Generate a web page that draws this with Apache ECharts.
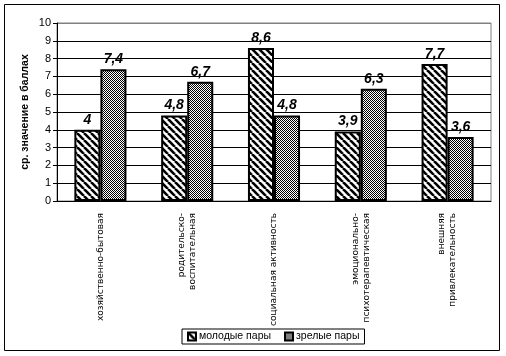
<!DOCTYPE html>
<html><head><meta charset="utf-8">
<script src="https://cdn.jsdelivr.net/npm/echarts@6/dist/echarts.min.js"></script>
<style>html,body{margin:0;padding:0;background:#fff}#c{width:506px;height:356px}</style>
</head><body><div id="c"></div>
<script>
const categories = ['хозяйственно-бытовая', 'родительско-\nвоспитательная', 'социальная активность', 'эмоционально-\nпсихотерапевтическая', 'внешняя\nпривлекательность'];
const youngCouples = [4, 4.8, 8.6, 3.9, 7.7];
const matureCouples = [7.4, 6.7, 4.8, 6.3, 3.6];
const seriesNames = ['молодые пары', 'зрелые пары'];
const yTicks = [0, 10, 1];
const yTitle = 'ср. значение в баллах';

function hatch() {
  const s = 7, c = document.createElement('canvas');
  c.width = s; c.height = s;
  const g = c.getContext('2d');
  g.fillStyle = '#fff'; g.fillRect(0, 0, s, s);
  g.strokeStyle = '#000'; g.lineWidth = 2.6;
  for (const x0 of [-s, 0, s]) { g.beginPath(); g.moveTo(x0, 0); g.lineTo(x0 + s, s); g.stroke(); }
  return c;
}
function checker() {
  const c = document.createElement('canvas');
  c.width = 2; c.height = 2;
  const g = c.getContext('2d');
  g.fillStyle = '#fff'; g.fillRect(0, 0, 2, 2);
  g.fillStyle = '#000'; g.fillRect(0, 0, 1, 1); g.fillRect(1, 1, 1, 1);
  return c;
}
const fmt = p => String(p.value).replace('.', ',');
const labelStyle = { show: true, position: 'top', distance: 3, formatter: fmt, fontFamily: 'Arial, Liberation Sans', fontSize: 14, fontWeight: 'bold', fontStyle: 'italic', color: '#000' };

const chart = echarts.init(document.getElementById('c'), null, { renderer: 'canvas' });
const gridColors = Array(10).fill('#000').concat(['#808080']);
chart.setOption({
  animation: false,
  textStyle: { fontFamily: 'Arial, Liberation Sans' },
  graphic: [{ type: 'rect', shape: { x: 4.5, y: 4.5, width: 495, height: 346 }, style: { fill: 'none', stroke: '#000', lineWidth: 1 }, z: -1 }],
  grid: { left: 57, top: 23, right: 15, bottom: 155, show: true, borderColor: '#808080', borderWidth: 1 },
  legend: {
    left: 182, top: 329, itemWidth: 8, itemHeight: 8, itemGap: 13, padding: [2, 5],
    borderColor: '#000', borderWidth: 1, icon: 'rect',
    textStyle: { fontSize: 10.5, color: '#000', fontFamily: 'Arial, Liberation Sans', padding: [0, 0, 0, -2] },
    data: seriesNames
  },
  xAxis: {
    type: 'category', data: categories,
    axisLine: { lineStyle: { color: '#000', width: 1 } },
    axisTick: { length: 5, lineStyle: { color: '#000' } },
    axisLabel: { rotate: 90, interval: 0, fontSize: 9, fontFamily: 'DejaVu Sans', color: '#000', margin: 12, lineHeight: 11 }
  },
  yAxis: {
    type: 'value', min: yTicks[0], max: yTicks[1], interval: yTicks[2],
    name: yTitle, nameLocation: 'middle', nameGap: 26, nameRotate: 90, nameMoveOverlap: false,
    nameTextStyle: { fontSize: 10.5, fontWeight: 'bold', color: '#000' },
    axisLine: { show: true, lineStyle: { color: '#000' } },
    axisTick: { show: true, length: 4, lineStyle: { color: '#000' } },
    axisLabel: { fontSize: 11, color: '#000', margin: 6 },
    splitLine: { lineStyle: { color: gridColors, width: 1 } }
  },
  series: [
    { name: seriesNames[0], type: 'bar', data: youngCouples, barGap: '0%', barCategoryGap: '40%',
      itemStyle: { color: { image: hatch(), repeat: 'repeat' }, borderColor: '#000', borderWidth: 2 }, label: labelStyle },
    { name: seriesNames[1], type: 'bar', data: matureCouples,
      itemStyle: { color: { image: checker(), repeat: 'repeat' }, borderColor: '#000', borderWidth: 2 }, label: labelStyle }
  ]
});
</script></body></html>
